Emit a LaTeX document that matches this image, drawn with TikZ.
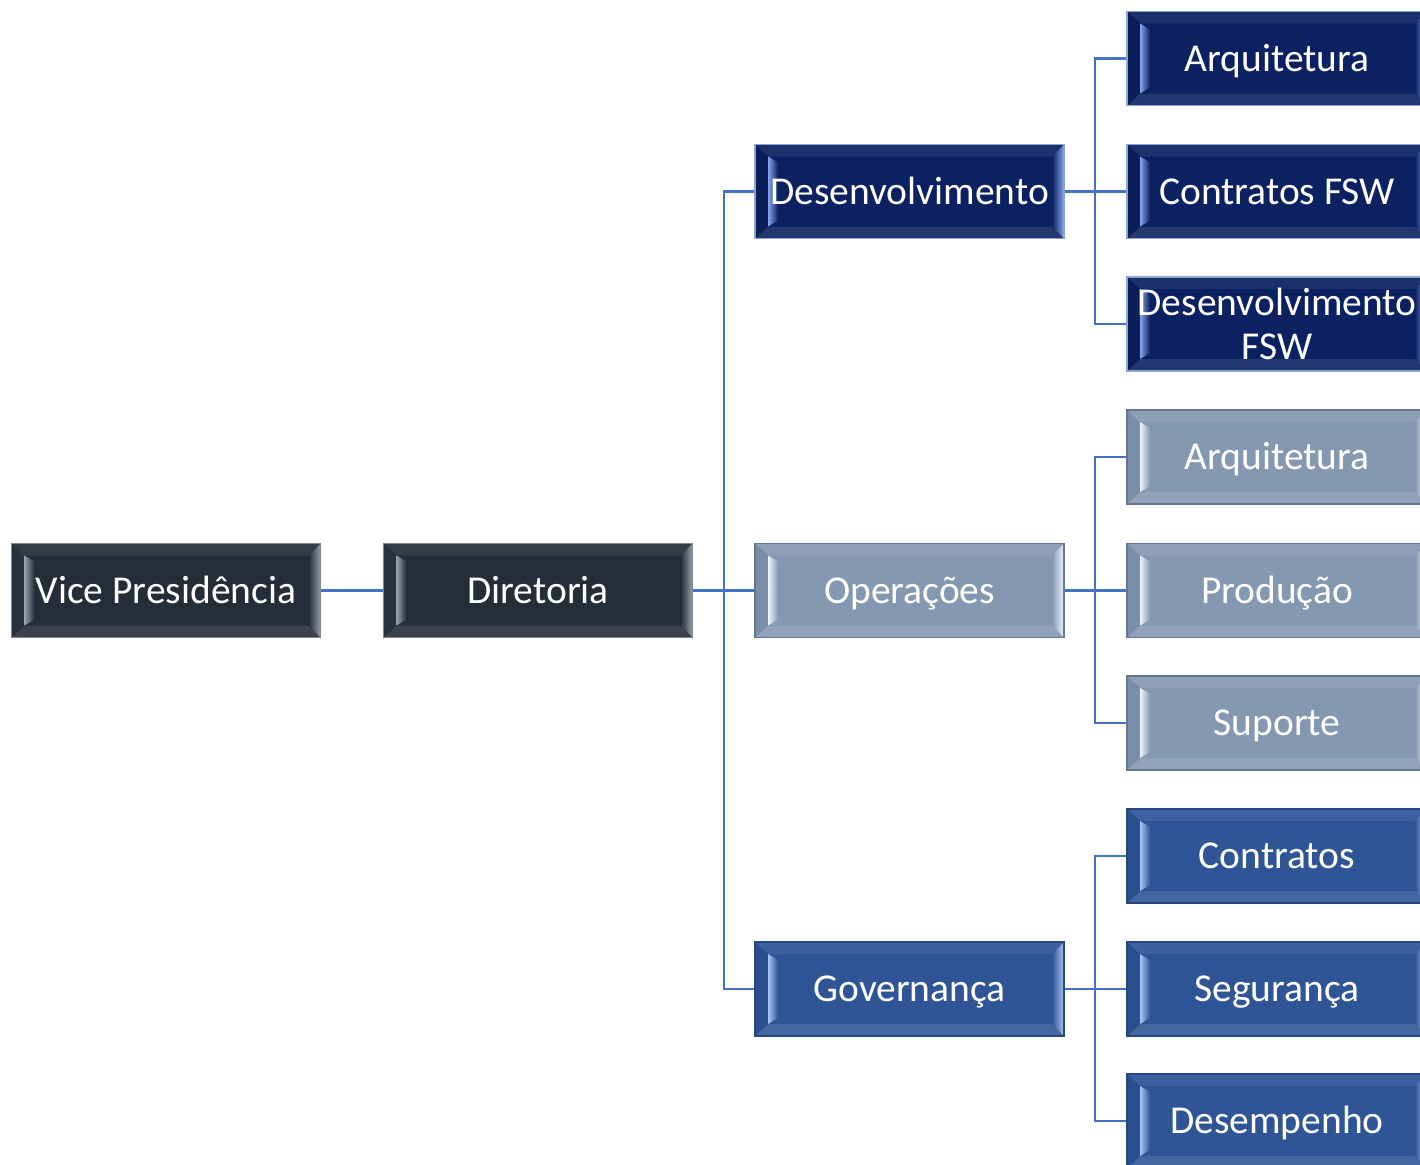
\documentclass[tikz,border=0pt]{standalone}
\usepackage{fontspec}
\setmainfont{Carlito}
\usetikzlibrary{calc}
\definecolor{dk}{HTML}{252D38}
\definecolor{dkL}{HTML}{959EA9}
\definecolor{dkD}{HTML}{29313C}
\definecolor{dkB}{HTML}{7E8690}
\definecolor{nv}{HTML}{0B2161}
\definecolor{nvL}{HTML}{86A6EC}
\definecolor{nvD}{HTML}{0A1E5A}
\definecolor{nvB}{HTML}{8EA3CF}
\definecolor{gb}{HTML}{8598B1}
\definecolor{gbL}{HTML}{EEF5FD}
\definecolor{gbD}{HTML}{7B8EA7}
\definecolor{gbB}{HTML}{66768C}
\definecolor{gv}{HTML}{2F5597}
\definecolor{gvL}{HTML}{A9C6F5}
\definecolor{gvD}{HTML}{2B4F8E}
\definecolor{gvB}{HTML}{24487F}
\definecolor{conn}{HTML}{4472C4}
\tikzset{
  bevbox/.style={rectangle, minimum width=309pt, minimum height=94pt, inner sep=0pt,
    fill=#1, draw=#1B, line width=1.2pt, text=white,
    font=\fontsize{39.5pt}{44pt}\selectfont, text height=25pt, text depth=0pt,
    path picture={
      \coordinate (NW) at (path picture bounding box.north west);
      \coordinate (NE) at (path picture bounding box.north east);
      \coordinate (SW) at (path picture bounding box.south west);
      \coordinate (SE) at (path picture bounding box.south east);
      \fill[#1!93!white] (NW) -- (NE) -- ($(NE)+(-12,12)$) -- ($(NW)+(13,12)$) -- cycle;
      \fill[#1!90!white] (SW) -- (SE) -- ($(SE)+(-12,-12)$) -- ($(SW)+(13,-12)$) -- cycle;
      \fill[#1D] (NW) -- ($(NW)+(13,12)$) -- ($(SW)+(13,-12)$) -- (SW) -- cycle;
      \shade[left color=#1, right color=#1L] (NE) -- ($(NE)+(-12,12)$) -- ($(SE)+(-12,-12)$) -- (SE) -- cycle;
      \shade[left color=#1L, right color=#1] ($(NW)+(13,12)$) -- ($(NW)+(23,18)$) -- ($(SW)+(23,-18)$) -- ($(SW)+(13,-12)$) -- cycle;
    }},
  wide/.style={minimum width=300pt},
  link/.style={draw=conn, line width=2.5pt}
}
\begin{document}
\begin{tikzpicture}[x=1pt,y=-1pt]
\useasboundingbox (0,0) rectangle (1420,1164);
\clip (0,0) rectangle (1420,1164);
\node[bevbox=dk] (vp) at (166,590.5) {Vice Presidência};
\node[bevbox=dk] (dir) at (538,590.5) {Diretoria};
\node[bevbox=nv] (dev) at (909.5,191.5) {Desenvolvimento};
\node[bevbox=gb] (ops) at (909.5,590.5) {Operações};
\node[bevbox=gv] (gov) at (909.5,989) {Governança};
\node[bevbox=nv,wide] (a1) at (1277,58.5) {Arquitetura};
\node[bevbox=nv,wide] (a2) at (1277,191.5) {Contratos FSW};
\node[bevbox=nv,wide,text height=,text depth=,align=center] (a3) at (1277,324) {Desenvolvimento\\FSW};
\node[bevbox=gb,wide] (b1) at (1277,457) {Arquitetura};
\node[bevbox=gb,wide] (b2) at (1277,590.5) {Produção};
\node[bevbox=gb,wide] (b3) at (1277,723) {Suporte};
\node[bevbox=gv,wide] (c1) at (1277,856) {Contratos};
\node[bevbox=gv,wide] (c2) at (1277,989) {Segurança};
\node[bevbox=gv,wide] (c3) at (1277,1121) {Desempenho};
\draw[link] (vp.east) -- (dir.west);
\coordinate (t0) at (724,590.5);
\draw[link] (dir.east) -- (t0);
\draw[link] (t0) |- (dev.west);
\draw[link] (t0) -- (ops.west);
\draw[link] (t0) |- (gov.west);
\coordinate (t1) at (1095,191.5);
\draw[link] (dev.east) -- (t1) -- (a2.west);
\draw[link] (t1) |- (a1.west);
\draw[link] (t1) |- (a3.west);
\coordinate (t2) at (1095,590.5);
\draw[link] (ops.east) -- (t2) -- (b2.west);
\draw[link] (t2) |- (b1.west);
\draw[link] (t2) |- (b3.west);
\coordinate (t3) at (1095,989);
\draw[link] (gov.east) -- (t3) -- (c2.west);
\draw[link] (t3) |- (c1.west);
\draw[link] (t3) |- (c3.west);
\end{tikzpicture}
\end{document}
